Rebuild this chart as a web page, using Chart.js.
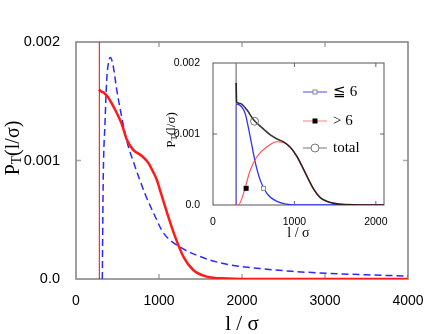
<!DOCTYPE html>
<html>
<head>
<meta charset="utf-8">
<script src="https://cdn.jsdelivr.net/npm/chart.js@4.4.1/dist/chart.umd.min.js"></script>
<style>
  html, body { margin: 0; padding: 0; background: #fff; }
  #wrap { position: relative; width: 442px; height: 334px; }
  #mainChart { position: absolute; left: 0; top: 0; }
  #insetChart { position: absolute; left: 150px; top: 50px; }
</style>
</head>
<body>
<div id="wrap">
  <canvas id="mainChart" width="442" height="334"></canvas>
  <canvas id="insetChart" width="250" height="195"></canvas>
</div>
<script>
// --- Main plot data (l/sigma, P_T) ---
const redX = [281, 289, 340, 390, 470, 550, 610, 690, 790, 871, 932, 972, 1012, 1052, 1092, 1193, 1293, 1413, 1574, 1815, 2000, 4000];
const redY = [0.00160, 0.00159, 0.00157, 0.00153, 0.00143, 0.00131, 0.00118, 0.00109, 0.00104, 0.00098, 0.00090, 0.00084, 0.00075, 0.00066, 0.00057, 0.00036, 0.00019, 0.000076, 0.00002, 0.000004, 0, 0];
const redEdgeX = [281, 281];
const redEdgeY = [0, 0.002];

const blueX = [317, 323, 329, 349, 370, 390, 415, 450, 490, 550, 610, 711, 831, 952, 1052, 1253, 1494, 1775, 2217, 2600, 3020, 3500, 4000];
const blueY = [0, 0.0005, 0.00089, 0.00131, 0.00168, 0.00182, 0.00187, 0.00179, 0.00160, 0.00137, 0.00117, 0.00095, 0.00072, 0.00053, 0.00039, 0.00027, 0.00019, 0.00013, 0.000088, 0.000065, 0.000048, 0.000035, 0.000025];

const mainXTicks = [0, 1000, 2000, 3000, 4000];
const mainYTicks = [0, 0.001, 0.002];
const mainXMarks = [1000, 2000, 3000];
const mainYMarks = [0.001];

// --- Inset data ---
const lowX = [284, 292, 354, 395, 457, 519, 580, 663, 786, 950, 1100, 2100];
const lowY = [0.00142, 0.00142, 0.00138, 0.00129, 0.00096, 0.00060, 0.00035, 0.00016, 0.00005, 0.000005, 0, 0];
const lowEdgeX = [284, 284];
const lowEdgeY = [0, 0.00142];

const highX = [284, 313, 374, 457, 539, 663, 786, 868, 951, 1033, 1100, 1156, 1238, 1321, 1403, 1486, 1650, 1800, 2100];
const highY = [0, 0, 0.00016, 0.00049, 0.00068, 0.00082, 0.00089, 0.00088, 0.00081, 0.00068, 0.00053, 0.00040, 0.00022, 0.00010, 0.00005, 0.000023, 0.000005, 0, 0];

const totalX = [284, 290, 333, 416, 498, 560, 621, 700, 786, 868, 951, 1033, 1100, 1156, 1238, 1321, 1403, 1486, 1650, 1800, 2100];
const totalY = [0.00172, 0.00145, 0.00143, 0.00134, 0.00120, 0.00113, 0.00107, 0.00099, 0.00093, 0.00089, 0.00081, 0.00068, 0.00053, 0.00040, 0.00022, 0.00010, 0.00005, 0.000023, 0.000005, 0, 0];
const totalEdgeX = [284, 284];
const totalEdgeY = [0.00142, 0.002];

// one marker per series
const lowMarkX = [621], lowMarkY = [0.000235];
const highMarkX = [407], highMarkY = [0.000235];
const totalMarkX = [510], totalMarkY = [0.00118];

const legendLabels = ["≦ 6", "> 6", "total"];

const insetXTicks = [0, 1000, 2000];
const insetYTicks = [0, 0.001, 0.002];
const insetXMarks = [1000, 2000];
const insetYMarks = [0.001];

const SANS = '"Liberation Sans", Arial, sans-serif';
const SERIF = '"Liberation Serif", "Times New Roman", serif';

const pts = (xs, ys) => xs.map((x, i) => ({ x: x, y: ys[i] }));
const yLabel = v => (v === 0 ? "0.0" : v.toFixed(3));
const xLabel = v => String(v);

// marker shapes (used on the curves and in the legend)
function drawMark(ctx, kind, px, py) {
    ctx.save();
    ctx.lineWidth = 1;
    if (kind === "openCircle") {
        ctx.strokeStyle = "#777";
        ctx.beginPath(); ctx.arc(px, py, 4, 0, Math.PI * 2); ctx.stroke();
    } else if (kind === "openSquare") {
        ctx.fillStyle = "#fff"; ctx.strokeStyle = "#888";
        ctx.fillRect(px - 2, py - 2, 4, 4); ctx.strokeRect(px - 2, py - 2, 4, 4);
    } else {
        ctx.fillStyle = "#000"; ctx.fillRect(px - 2.5, py - 2.5, 5, 5);
    }
    ctx.restore();
}

// frame + inward tick marks, drawn under the curves
function framePlugin(o) {
    return {
        id: "frame",
        beforeDatasetsDraw(chart) {
            const { ctx, chartArea: a, scales } = chart;
            const x = scales.x, y = scales.y;
            ctx.save();
            ctx.strokeStyle = o.tickColor;
            ctx.lineWidth = o.tickWidth;
            ctx.beginPath();
            o.xMarks.forEach(v => {
                const px = x.getPixelForValue(v);
                ctx.moveTo(px, a.bottom); ctx.lineTo(px, a.bottom - o.len);
                ctx.moveTo(px, a.top); ctx.lineTo(px, a.top + o.len);
            });
            o.yMarks.forEach(v => {
                const py = y.getPixelForValue(v);
                ctx.moveTo(a.left, py); ctx.lineTo(a.left + o.len, py);
                ctx.moveTo(a.right, py); ctx.lineTo(a.right - o.len, py);
            });
            ctx.stroke();
            ctx.strokeStyle = o.frameColor;
            ctx.lineWidth = o.frameWidth;
            ctx.strokeRect(a.left, a.top, a.right - a.left, a.bottom - a.top);
            ctx.restore();
        },
        afterDraw(chart) {
            // rotated P_T(l/σ) title with subscript
            const ctx = chart.ctx;
            const s = o.titleSize;
            ctx.save();
            ctx.translate(o.titleX, o.titleY);
            ctx.rotate(-Math.PI / 2);
            ctx.fillStyle = "#000";
            ctx.textBaseline = "alphabetic";
            ctx.font = `${s}px ${SERIF}`;
            const wP = ctx.measureText("P").width;
            const wRest = ctx.measureText("(l/σ)").width;
            ctx.font = `${s * 0.68}px ${SERIF}`;
            const wT = ctx.measureText("T").width;
            let x0 = -(wP + wT + wRest) / 2;
            ctx.font = `${s}px ${SERIF}`;
            ctx.fillText("P", x0, 0);
            ctx.font = `${s * 0.68}px ${SERIF}`;
            ctx.fillText("T", x0 + wP, s * 0.12);
            ctx.font = `${s}px ${SERIF}`;
            ctx.fillText("(l/σ)", x0 + wP + wT, 0);
            ctx.restore();
        }
    };
}

function fixedAxes(yWidth, xHeight) {
    return {
        x: s => { s.height = xHeight; s.paddingLeft = 0; s.paddingRight = 0; },
        y: s => { s.width = yWidth; s.paddingTop = 0; s.paddingBottom = 0; }
    };
}

// ==========================================
// MAIN CHART
// ==========================================
const mainFit = fixedAxes(76, 55);
new Chart(document.getElementById("mainChart"), {
    type: "line",
    data: {
        datasets: [
            { data: pts(redEdgeX, redEdgeY), borderColor: "#ff0000", borderWidth: 1, tension: 0 },
            { data: pts(redX, redY), borderColor: "#ff1a1a", borderWidth: 2.5, cubicInterpolationMode: "monotone" },
            { data: pts(blueX, blueY), borderColor: "#2a2aff", borderWidth: 1.5, borderDash: [7, 4], cubicInterpolationMode: "monotone" }
        ]
    },
    options: {
        responsive: false,
        animation: false,
        devicePixelRatio: 1,
        layout: { padding: { top: 42, right: 34, left: 0, bottom: 0 } },
        elements: { point: { radius: 0 } },
        plugins: { legend: { display: false }, tooltip: { enabled: false } },
        scales: {
            x: {
                type: "linear", min: 0, max: 4000,
                grid: { display: false }, border: { display: false },
                afterBuildTicks: s => { s.ticks = mainXTicks.map(v => ({ value: v })); },
                afterFit: mainFit.x,
                ticks: { color: "#000", font: { family: SANS, size: 14 }, padding: 6, maxRotation: 0, autoSkip: false, callback: xLabel },
                title: { display: true, text: "l / σ", color: "#000", font: { family: SERIF, size: 21, lineHeight: 1 }, padding: { top: 0, bottom: -1 } }
            },
            y: {
                type: "linear", min: 0, max: 0.002,
                grid: { display: false }, border: { display: false },
                afterBuildTicks: s => { s.ticks = mainYTicks.map(v => ({ value: v })); },
                afterFit: mainFit.y,
                ticks: { color: "#000", font: { family: SANS, size: 14.5 }, padding: 8, callback: yLabel }
            }
        }
    },
    plugins: [framePlugin({
        tickColor: "#aaaaaa", tickWidth: 1.5, len: 5, xMarks: mainXMarks, yMarks: mainYMarks,
        frameColor: "#888888", frameWidth: 1.6,
        titleSize: 20, titleX: 19, titleY: 148
    })]
});

// ==========================================
// INSET CHART
// ==========================================
const markerSets = [
    { kind: "openSquare", xs: lowMarkX, ys: lowMarkY },
    { kind: "fillSquare", xs: highMarkX, ys: highMarkY },
    { kind: "openCircle", xs: totalMarkX, ys: totalMarkY }
];

const insetOverlay = {
    id: "insetOverlay",
    afterDatasetsDraw(chart) {
        const { ctx, scales: { x, y } } = chart;
        markerSets.forEach(m => {
            m.xs.forEach((v, i) => drawMark(ctx, m.kind, x.getPixelForValue(v), y.getPixelForValue(m.ys[i])));
        });
    },
    afterDraw(chart) {
        // legend: short line with the marker in the middle, then the label
        const ctx = chart.ctx;
        const lineColors = ["#4848ff", "#ff8080", "#777777"];
        const rows = [42, 71, 98];
        const x1 = 153, x2 = 177, tx = 183;
        ctx.save();
        legendLabels.forEach((lab, i) => {
            const yy = rows[i];
            ctx.strokeStyle = lineColors[i]; ctx.lineWidth = 1;
            ctx.beginPath(); ctx.moveTo(x1, yy); ctx.lineTo(x2, yy); ctx.stroke();
            if (markerSets[i].kind === "openCircle") {
                ctx.fillStyle = "#fff";
                ctx.beginPath(); ctx.arc((x1 + x2) / 2, yy, 4, 0, Math.PI * 2); ctx.fill();
            }
            drawMark(ctx, markerSets[i].kind, (x1 + x2) / 2, yy);
            ctx.fillStyle = "#000";
            ctx.font = `15px ${SERIF}`;
            ctx.textBaseline = "middle";
            ctx.fillText(lab, tx, yy);
        });
        ctx.restore();
    }
};

const insetFit = fixedAxes(63, 40);
new Chart(document.getElementById("insetChart"), {
    type: "line",
    data: {
        datasets: [
            { data: pts(totalX, totalY), borderColor: "rgba(25,15,15,0.85)", borderWidth: 1.6, cubicInterpolationMode: "monotone" },
            { data: pts(highX, highY), borderColor: "#ff4d4d", borderWidth: 1.1, cubicInterpolationMode: "monotone" },
            { data: pts(lowX, lowY), borderColor: "#2f2fff", borderWidth: 1.3, cubicInterpolationMode: "monotone" },
            { data: pts(lowEdgeX, lowEdgeY), borderColor: "#3a3ac8", borderWidth: 1.2, tension: 0 },
            { data: pts(totalEdgeX, totalEdgeY), borderColor: "#777777", borderWidth: 1.2, tension: 0 }
        ]
    },
    options: {
        responsive: false,
        animation: false,
        devicePixelRatio: 1,
        layout: { padding: { top: 13, right: 16, left: 0, bottom: 0 } },
        elements: { point: { radius: 0 } },
        plugins: { legend: { display: false }, tooltip: { enabled: false } },
        scales: {
            x: {
                type: "linear", min: 0, max: 2100,
                grid: { display: false }, border: { display: false },
                afterBuildTicks: s => { s.ticks = insetXTicks.map(v => ({ value: v })); },
                afterFit: insetFit.x,
                ticks: { color: "#000", font: { family: SANS, size: 10.5 }, padding: 3, maxRotation: 0, autoSkip: false, callback: xLabel },
                title: { display: true, text: "l / σ", color: "#000", font: { family: SERIF, size: 14, lineHeight: 1 }, padding: { top: 0, bottom: 5 } }
            },
            y: {
                type: "linear", min: 0, max: 0.002,
                grid: { display: false }, border: { display: false },
                afterBuildTicks: s => { s.ticks = insetYTicks.map(v => ({ value: v })); },
                afterFit: insetFit.y,
                ticks: { color: "#000", font: { family: SANS, size: 10.5 }, padding: 5, callback: yLabel }
            }
        }
    },
    plugins: [framePlugin({
        tickColor: "#666666", tickWidth: 1, len: 4, xMarks: insetXMarks, yMarks: insetYMarks,
        frameColor: "#555555", frameWidth: 1,
        titleSize: 13, titleX: 25, titleY: 80
    }), insetOverlay]
});
</script>
</body>
</html>
